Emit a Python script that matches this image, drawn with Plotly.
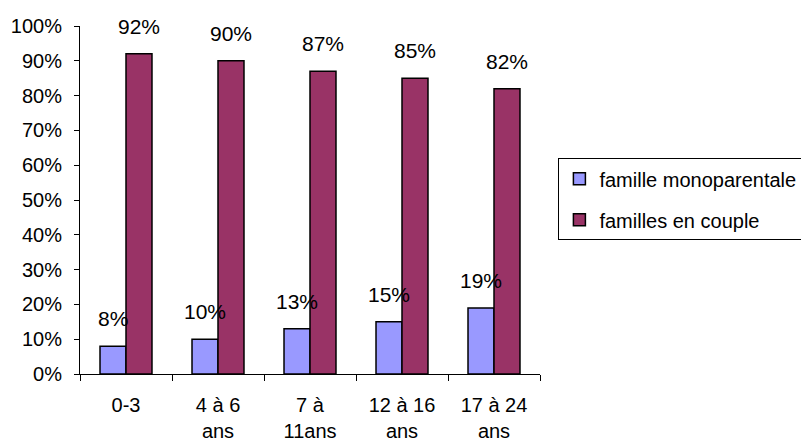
import plotly.graph_objects as go

categories = ["0-3", "4 à 6<br>ans", "7 à<br>11ans", "12 à 16<br>ans", "17 à 24<br>ans"]
mono = [0.08, 0.10, 0.13, 0.15, 0.19]
couple = [0.92, 0.90, 0.87, 0.85, 0.82]
series_names = ["famille monoparentale", "familles en couple"]
y_ticks = [i / 10 for i in range(11)]

FONT = "Liberation Sans, Arial, sans-serif"
BLUE = "#9999FF"
MAROON = "#993366"

fig = go.Figure()
fig.add_trace(go.Bar(x=categories, y=mono, name=series_names[0], legendgroup="a",
                     marker=dict(color=BLUE, line=dict(color="black", width=1.5))))
fig.add_trace(go.Bar(x=categories, y=couple, name=series_names[1], legendgroup="b",
                     marker=dict(color=MAROON, line=dict(color="black", width=1.5))))

# value labels floating above each bar
for i, cat in enumerate(categories):
    for vals, shift in ((mono, -13), (couple, 13)):
        fig.add_annotation(x=cat, y=vals[i], text=f"{round(vals[i] * 100)}%",
                           showarrow=False, xshift=shift, yshift=14,
                           yanchor="bottom", font=dict(family=FONT, size=21, color="black"))

fig.update_layout(
    width=801, height=443,
    margin=dict(l=80, r=261, t=26, b=69, autoexpand=False),
    paper_bgcolor="white", plot_bgcolor="white",
    barmode="group", bargap=0.435, bargroupgap=0,
    font=dict(family=FONT, size=20, color="black"),
    showlegend=True,
    legend=dict(x=1.04, y=0.62, xanchor="left", yanchor="top",
                bordercolor="black", borderwidth=1, bgcolor="white",
                font=dict(family=FONT, size=20), itemwidth=30, tracegroupgap=12),
    xaxis=dict(showline=True, linecolor="black", linewidth=1,
               ticks="outside", ticklen=6, tickcolor="black", tickson="boundaries",
               showgrid=False, tickfont=dict(size=20), ticklabelstandoff=13,
               automargin=False),
    yaxis=dict(range=[0, 1], tickvals=y_ticks, tickformat=".0%",
               showline=True, linecolor="black", linewidth=1,
               ticks="outside", ticklen=5, tickcolor="black",
               showgrid=False, zeroline=False, ticklabelstandoff=8,
               tickfont=dict(size=20), automargin=False),
)

fig.write_html("out.html")
